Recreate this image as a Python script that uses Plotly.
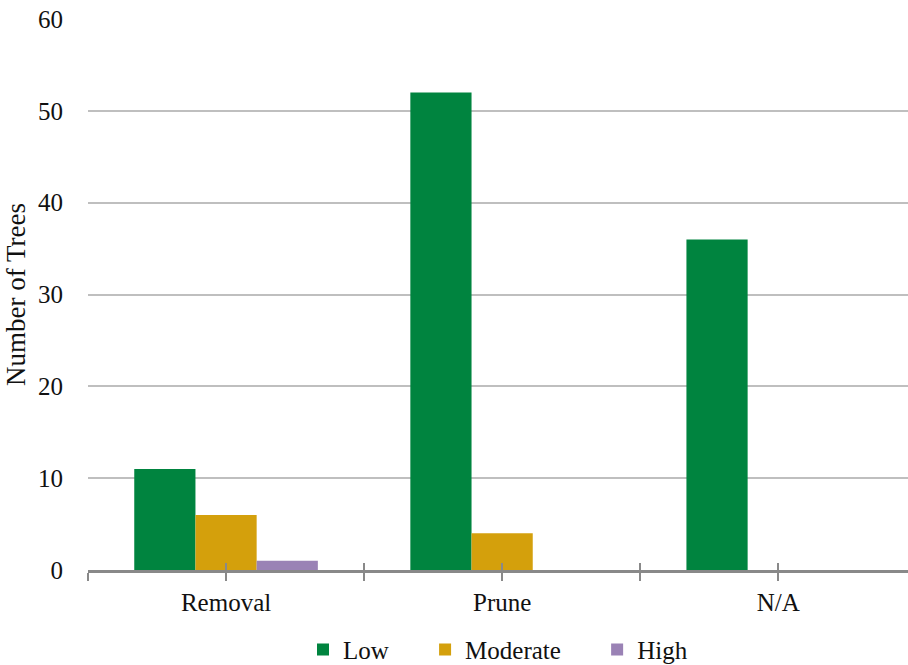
import plotly.graph_objects as go

# Tree counts by recommended action and risk rating
actions = ["Removal", "Prune", "N/A"]
low = [11, 52, 36]
moderate = [6, 4, 0]
high = [1, 0, 0]

series = [
    ("Low", low, "#00843F"),
    ("Moderate", moderate, "#D4A00C"),
    ("High", high, "#9A82B5"),
]

y_ticks = [0, 10, 20, 30, 40, 50, 60]

FONT = "Liberation Serif"
TXT = "#111111"
NBSP = "\u00a0"
positions = list(range(len(actions)))

fig = go.Figure()
for i, (name, vals, color) in enumerate(series):
    # trailing spaces widen the gap between legend entries
    pad = NBSP * 5 if i < len(series) - 1 else ""
    fig.add_trace(go.Bar(
        x=positions, y=vals, name=name + pad,
        marker=dict(color=color, line=dict(width=0)),
    ))

# half-category tick marks: boundaries plus centres, labels only at centres
half_ticks = [i / 2 - 0.5 for i in range(2 * len(actions) + 1)]
half_text = [actions[int(t)] if float(t).is_integer() else "" for t in half_ticks]

xrange = [-0.5, len(actions) - 0.53]

fig.update_layout(
    width=908, height=665,
    margin=dict(l=88, r=0, t=19, b=95),
    paper_bgcolor="white", plot_bgcolor="white",
    barmode="group", bargap=0.335, bargroupgap=0,
    font=dict(family=FONT, size=25, color=TXT),
    showlegend=True,
    legend=dict(
        orientation="h", x=0.5, xanchor="center",
        yref="container", y=0.023, yanchor="middle",
        font=dict(family=FONT, size=25, color=TXT),
        itemwidth=30, traceorder="normal",
    ),
    xaxis=dict(
        range=xrange, tickmode="array", tickvals=half_ticks, ticktext=half_text,
        showgrid=False, zeroline=False, automargin=False,
        showline=True, linecolor="#898989", linewidth=3,
        ticks="outside", ticklen=8, tickwidth=2, tickcolor="#898989",
        tickfont=dict(family=FONT, size=25, color=TXT),
    ),
    xaxis2=dict(
        range=xrange, overlaying="x", anchor="y", side="bottom",
        tickmode="array", tickvals=half_ticks, showticklabels=False,
        showgrid=False, zeroline=False, showline=False, automargin=False,
        ticks="inside", ticklen=7, tickwidth=2, tickcolor="#898989",
    ),
    yaxis=dict(
        range=[0, 60], tickmode="array", tickvals=y_ticks,
        showgrid=True, gridcolor="#BFBFBF", gridwidth=2,
        zeroline=False, showline=False, ticks="", automargin=False,
        ticklabelstandoff=24,
        tickfont=dict(family=FONT, size=25, color=TXT),
        title=dict(text="Number of Trees", font=dict(family=FONT, size=27, color=TXT), standoff=4),
    ),
)

# invisible trace to bring the inner tick axis into the layout
fig.add_trace(go.Scatter(x=[xrange[0]], y=[0], xaxis="x2", mode="markers",
                         marker=dict(opacity=0), showlegend=False, hoverinfo="skip"))

fig.write_html("out.html")
